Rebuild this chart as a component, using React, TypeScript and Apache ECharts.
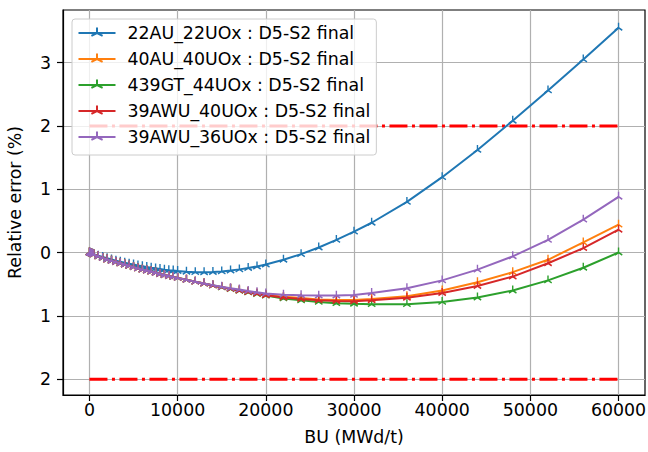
import React, { useEffect, useRef } from "react";
import * as echarts from "echarts";

const BU = [0, 75, 150, 250, 375, 500,
  1000, 1500, 2000, 2500, 3000, 3500, 4000, 4500, 5000, 5500, 6000, 6500, 7000, 7500, 8000, 8500, 9000, 9500, 10000,
  11000, 12000, 13000, 14000, 15000, 16000, 17000, 18000, 19000, 20000,
  22000, 24000, 26000, 28000, 30000, 32000,
  36000, 40000, 44000, 48000, 52000, 56000, 60000];

const S_22AU = [0, -0.004, -0.008, -0.013, -0.02, -0.026,
  -0.05, -0.07, -0.09, -0.11, -0.13, -0.145, -0.16, -0.175, -0.19, -0.203, -0.215, -0.228, -0.24, -0.25, -0.26, -0.27, -0.278, -0.285, -0.292,
  -0.303, -0.31, -0.312, -0.308, -0.298, -0.284, -0.266, -0.245, -0.22, -0.19,
  -0.115, -0.025, 0.08, 0.2, 0.33, 0.47,
  0.8, 1.19, 1.62, 2.08, 2.56, 3.05, 3.55];

const S_40AU = [0, -0.005, -0.01, -0.016, -0.024, -0.03,
  -0.06, -0.085, -0.11, -0.13, -0.15, -0.17, -0.19, -0.21, -0.23, -0.25, -0.27, -0.285, -0.3, -0.32, -0.34, -0.355, -0.37, -0.385, -0.4,
  -0.43, -0.46, -0.49, -0.52, -0.545, -0.57, -0.595, -0.62, -0.645, -0.67,
  -0.7, -0.72, -0.74, -0.75, -0.75, -0.735,
  -0.69, -0.6, -0.47, -0.31, -0.115, 0.16, 0.44];

const S_439GT = [0, -0.005, -0.01, -0.016, -0.024, -0.03,
  -0.06, -0.085, -0.11, -0.13, -0.15, -0.17, -0.19, -0.21, -0.23, -0.25, -0.27, -0.285, -0.3, -0.32, -0.34, -0.355, -0.37, -0.385, -0.4,
  -0.43, -0.46, -0.49, -0.52, -0.55, -0.577, -0.604, -0.63, -0.655, -0.68,
  -0.725, -0.755, -0.78, -0.8, -0.81, -0.815,
  -0.815, -0.78, -0.71, -0.6, -0.44, -0.24, 0.0];

const S_39AWU_40 = [0, -0.005, -0.01, -0.016, -0.024, -0.03,
  -0.06, -0.085, -0.11, -0.13, -0.15, -0.17, -0.19, -0.21, -0.23, -0.25, -0.27, -0.285, -0.3, -0.32, -0.34, -0.355, -0.37, -0.385, -0.4,
  -0.43, -0.46, -0.49, -0.52, -0.547, -0.573, -0.6, -0.625, -0.65, -0.675,
  -0.71, -0.735, -0.755, -0.765, -0.77, -0.755,
  -0.715, -0.64, -0.53, -0.38, -0.17, 0.07, 0.36];

const S_39AWU_36 = [0, -0.005, -0.01, -0.016, -0.024, -0.03,
  -0.06, -0.085, -0.11, -0.13, -0.15, -0.17, -0.19, -0.21, -0.23, -0.25, -0.27, -0.285, -0.3, -0.32, -0.34, -0.355, -0.37, -0.385, -0.4,
  -0.43, -0.46, -0.488, -0.515, -0.54, -0.563, -0.585, -0.607, -0.628, -0.648,
  -0.665, -0.675, -0.68, -0.68, -0.67, -0.64,
  -0.565, -0.44, -0.27, -0.06, 0.2, 0.52, 0.88];

const SERIES_NAMES = [
  "22AU_22UOx : D5-S2 final",
  "40AU_40UOx : D5-S2 final",
  "439GT_44UOx : D5-S2 final",
  "39AWU_40UOx : D5-S2 final",
  "39AWU_36UOx : D5-S2 final",
];
const SERIES_VALUES = [S_22AU, S_40AU, S_439GT, S_39AWU_40, S_39AWU_36];
const COLORS = ["#1f77b4", "#ff7f0e", "#2ca02c", "#d62728", "#9467bd"];

const LIMIT_X = [0, 60000];
const LIMIT_UP = 2;
const LIMIT_DOWN = -2;

const X_TICKS = [0, 10000, 20000, 30000, 40000, 50000, 60000];
const Y_TICKS = [-2, -1, 0, 1, 2, 3];

const TRI_UP = "path://M0,0 L0,-10 M0,0 L-8.66,5 M0,0 L8.66,5 M0,10";
const FONT = "DejaVu Sans";
const FS = 17.36;

export default function App() {
  const ref = useRef<HTMLDivElement>(null);
  useEffect(() => {
    if (!ref.current) return;
    const chart = echarts.init(ref.current, null, { renderer: "svg" });
    const lineSeries = SERIES_NAMES.map((name, i) => ({
      name,
      type: "line",
      data: BU.map((x, j) => [x, SERIES_VALUES[i][j]]),
      symbol: TRI_UP,
      symbolSize: [8.6, 9.9],
      symbolKeepAspect: true,
      showSymbol: true,
      showAllSymbol: true,
      lineStyle: { color: COLORS[i], width: 2 },
      itemStyle: { color: COLORS[i], borderColor: COLORS[i], borderWidth: 1.5 },
      z: 3 + i,
    }));
    const limitStyle = { color: "#ff0000", width: 3, type: [18, 4.5, 3, 4.5] as any };
    const limitSeries = [LIMIT_UP, LIMIT_DOWN].map((v) => ({
      name: "limit" + v,
      type: "line",
      data: LIMIT_X.map((x) => [x, v]),
      symbol: "none",
      lineStyle: limitStyle,
      z: 2,
      silent: true,
    }));
    chart.setOption({
      animation: false,
      backgroundColor: "#ffffff",
      grid: {
        left: 63, right: 3, top: 10, bottom: 57,
        show: true, borderColor: "#000000", borderWidth: 1.2,
        containLabel: false, outerBoundsMode: "none",
      },
      legend: {
        data: SERIES_NAMES,
        orient: "vertical",
        left: 72, top: 19,
        padding: [4, 6, 8, 5.5],
        itemWidth: 37, itemHeight: 14, itemGap: 6,
        backgroundColor: "rgba(255,255,255,0.8)",
        borderColor: "#cccccc", borderWidth: 1, borderRadius: 3,
        textStyle: { fontFamily: FONT, fontSize: FS, color: "#000", padding: [0, 0, 0, 7], lineHeight: 20 },
      },
      xAxis: {
        type: "value",
        min: -3000, max: 63000,
        name: "BU (MWd/t)", nameLocation: "middle", nameGap: 33,
        nameTextStyle: { fontFamily: FONT, fontSize: FS, color: "#000" },
        axisLine: { show: true, onZero: false, lineStyle: { color: "#000", width: 1.2 } },
        axisTick: { show: true, length: 6, customValues: X_TICKS, lineStyle: { color: "#000", width: 1.2 } },
        axisLabel: {
          customValues: X_TICKS, margin: 6, fontFamily: FONT, fontSize: FS, color: "#000",
          formatter: (v: number) => String(v),
        },
        splitLine: { show: true, lineStyle: { color: "#b0b0b0", width: 1.2 } },
      },
      yAxis: {
        type: "value",
        min: -2.25, max: 3.83,
        name: "Relative error (%)", nameLocation: "middle", nameGap: 40,
        nameTextStyle: { fontFamily: FONT, fontSize: FS, color: "#000" },
        axisLine: { show: true, onZero: false, lineStyle: { color: "#000", width: 1.2 } },
        axisTick: { show: true, length: 6, customValues: Y_TICKS, lineStyle: { color: "#000", width: 1.2 } },
        axisLabel: {
          customValues: Y_TICKS, margin: 12, fontFamily: FONT, fontSize: FS, color: "#000",
          formatter: (v: number) => String(Math.abs(v)),
        },
        splitLine: { show: true, lineStyle: { color: "#b0b0b0", width: 1.2 } },
      },
      series: [...limitSeries, ...lineSeries],
    } as any);
    return () => chart.dispose();
  }, []);
  return <div ref={ref} style={{ position: "absolute", left: 0, top: 0, width: 648, height: 452 }} />;
}
